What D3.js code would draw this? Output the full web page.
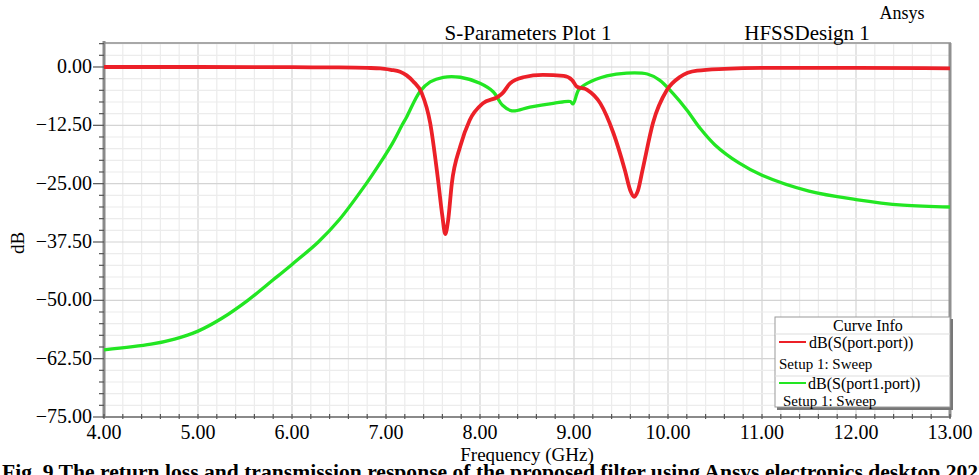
<!DOCTYPE html>
<html>
<head>
<meta charset="utf-8">
<script src="https://cdn.jsdelivr.net/npm/d3@7"></script>
<style>
  body { margin: 0; background: #fff; overflow: hidden; }
  svg text { font-family: "Liberation Serif", "Times New Roman", serif; fill: #000; }
</style>
</head>
<body>
<script>
// S11 (red)
var s11Freq = [4.0, 5.0, 6.0, 6.5, 6.8, 6.94, 7.05, 7.15, 7.22, 7.29, 7.38, 7.47, 7.55, 7.60, 7.63, 7.66, 7.70, 7.79, 7.89, 8.03, 8.19, 8.24, 8.32, 8.46, 8.67, 8.89, 8.98, 9.03, 9.14, 9.28, 9.42, 9.54, 9.60, 9.64, 9.68, 9.73, 9.84, 9.99, 10.13, 10.31, 10.6, 11.0, 12.0, 13.0];
var s11dB = [0, 0, -0.05, -0.1, -0.2, -0.3, -0.6, -1.0, -1.8, -3.1, -5.6, -12, -23.6, -32, -35.8, -33, -25, -17, -11.4, -7.8, -6.4, -5.6, -3.5, -2.2, -1.7, -1.9, -2.8, -4.2, -4.9, -7.8, -14.2, -22, -26.5, -27.8, -26.5, -22, -12, -4.9, -2.1, -0.8, -0.4, -0.2, -0.2, -0.3];

// S21 (green)
var s21Freq = [4.0, 4.5, 4.75, 5.0, 5.25, 5.53, 5.8, 6.0, 6.28, 6.5, 6.79, 6.94, 7.07, 7.17, 7.22, 7.36, 7.47, 7.61, 7.79, 8.0, 8.14, 8.24, 8.34, 8.53, 8.78, 8.96, 8.99, 9.05, 9.14, 9.35, 9.56, 9.78, 9.91, 10.05, 10.2, 10.34, 10.5, 10.75, 11.0, 11.5, 12.0, 12.5, 13.0];
var s21dB = [-60.6, -59.4, -58.3, -56.6, -53.9, -50, -45.6, -42.3, -37.5, -32.8, -25, -20.5, -16.3, -12.5, -10.7, -5.3, -3.2, -2.2, -2.2, -3.5, -5.3, -8.2, -9.4, -8.6, -7.8, -7.4, -7.9, -4.9, -3.5, -1.9, -1.3, -1.5, -2.8, -5.6, -9.2, -13.1, -16.7, -20.5, -23.2, -26.6, -28.4, -29.6, -30.0];

var xTicks = [4, 5, 6, 7, 8, 9, 10, 11, 12, 13];
var yTicks = [0, -12.5, -25, -37.5, -50, -62.5, -75];

var W = 979, H = 475;
var pL = 104, pR = 950, pT = 43, pB = 417;

var svg = d3.select("body").append("svg")
    .attr("width", W)
    .attr("height", H);

var x = d3.scaleLinear().domain([4, 13]).range([pL, pR]);
var y = d3.scaleLinear().domain([-75, 5.14]).range([pB, pT]);

// grid, light every 0.2 GHz / 2.5 dB, a bit darker on the labelled values
var gx = d3.range(4, 13.001, 0.2);
var gy = d3.range(-75, 5.1, 2.5);

svg.append("g").selectAll("line")
    .data(gx)
    .enter().append("line")
    .attr("x1", d => x(d)).attr("x2", d => x(d))
    .attr("y1", pT).attr("y2", pB)
    .attr("stroke", function (d) { return Math.abs(d - Math.round(d)) < 1e-6 ? "#d4d4d4" : "#ececec"; })
    .attr("stroke-width", 1.2);

svg.append("g").selectAll("line")
    .data(gy)
    .enter().append("line")
    .attr("x1", pL).attr("x2", pR)
    .attr("y1", d => y(d)).attr("y2", d => y(d))
    .attr("stroke", function (d) { return Math.abs(d / 12.5 - Math.round(d / 12.5)) < 1e-6 ? "#d4d4d4" : "#ececec"; })
    .attr("stroke-width", 1.2);

// frame
svg.append("line").attr("x1", pL).attr("x2", pR + 1).attr("y1", pT).attr("y2", pT)
    .attr("stroke", "#a8a8a8").attr("stroke-width", 2);
svg.append("line").attr("x1", pR).attr("x2", pR).attr("y1", pT).attr("y2", pB)
    .attr("stroke", "#909090").attr("stroke-width", 3);
svg.append("line").attr("x1", pL).attr("x2", pR + 1).attr("y1", pB).attr("y2", pB)
    .attr("stroke", "#8a8a8a").attr("stroke-width", 2);
svg.append("line").attr("x1", pL).attr("x2", pL).attr("y1", pT - 2).attr("y2", pB + 1)
    .attr("stroke", "#8a8a8a").attr("stroke-width", 3);

// y axis ticks
svg.append("g").selectAll("line")
    .data(gy.filter(d => d <= 5))
    .enter().append("line")
    .attr("x1", d => yTicks.indexOf(d) >= 0 ? pL - 11 : pL - 5)
    .attr("x2", pL)
    .attr("y1", d => y(d)).attr("y2", d => y(d))
    .attr("stroke", "#555").attr("stroke-width", 1.2);

svg.append("g").selectAll("text")
    .data(yTicks)
    .enter().append("text")
    .attr("x", pL - 12)
    .attr("y", d => y(d) + 6)
    .attr("text-anchor", "end")
    .style("font-size", "20px")
    .text(d => d3.format(".2f")(d));

// x axis ticks
svg.append("g").selectAll("line")
    .data(gx)
    .enter().append("line")
    .attr("x1", d => x(d)).attr("x2", d => x(d))
    .attr("y1", pB - 3).attr("y2", pB + 2)
    .attr("stroke", "#555").attr("stroke-width", 1.2);

svg.append("g").selectAll("text")
    .data(xTicks)
    .enter().append("text")
    .attr("x", d => x(d))
    .attr("y", pB + 22)
    .attr("text-anchor", "middle")
    .style("font-size", "20px")
    .text(d => d3.format(".2f")(d));

// axis titles
svg.append("text").attr("x", 527).attr("y", 461).attr("text-anchor", "middle")
    .style("font-size", "19px").text("Frequency (GHz)");
svg.append("text").attr("transform", "translate(24,243) rotate(-90)").attr("text-anchor", "middle")
    .style("font-size", "19px").text("dB");

// titles
svg.append("text").attr("x", 528).attr("y", 40).attr("text-anchor", "middle")
    .style("font-size", "21px").text("S-Parameters Plot 1");
svg.append("text").attr("x", 807).attr("y", 40).attr("text-anchor", "middle")
    .style("font-size", "21px").text("HFSSDesign 1");
svg.append("text").attr("x", 902).attr("y", 19).attr("text-anchor", "middle")
    .style("font-size", "18px").text("Ansys");

// curves
var lineS11 = d3.line()
    .x(d => x(d[0]))
    .y(d => y(d[1]))
    .curve(d3.curveMonotoneX);
var lineS21 = d3.line()
    .x(d => x(d[0]))
    .y(d => y(d[1]))
    .curve(d3.curveCatmullRom.alpha(0.5));

var plot = svg.append("g");
plot.append("path")
    .datum(d3.zip(s21Freq, s21dB))
    .attr("d", lineS21)
    .attr("fill", "none")
    .attr("stroke", "#22e622")
    .attr("stroke-width", 3.3);

plot.append("path")
    .datum(d3.zip(s11Freq, s11dB))
    .attr("d", lineS11)
    .attr("fill", "none")
    .attr("stroke", "#ec2028")
    .attr("stroke-width", 3.8);

// legend
var lg = svg.append("g");
lg.append("rect").attr("x", 777).attr("y", 319).attr("width", 176).attr("height", 91).attr("fill", "#777");
lg.append("rect").attr("x", 775).attr("y", 317).attr("width", 175).attr("height", 90)
    .attr("fill", "#fff").attr("stroke", "#9a9a9a").attr("stroke-width", 1);
lg.append("text").attr("x", 868).attr("y", 331).attr("text-anchor", "middle")
    .style("font-size", "16px").text("Curve Info");
lg.append("line").attr("x1", 775).attr("x2", 950).attr("y1", 334).attr("y2", 334).attr("stroke", "#ddd");
lg.append("line").attr("x1", 779).attr("x2", 806).attr("y1", 342).attr("y2", 342).attr("stroke", "#ec2028").attr("stroke-width", 2);
lg.append("text").attr("x", 809).attr("y", 348).style("font-size", "16px").text("dB(S(port.port))");
lg.append("text").attr("x", 779).attr("y", 369).style("font-size", "15px").text("Setup 1: Sweep");
lg.append("line").attr("x1", 775).attr("x2", 950).attr("y1", 376).attr("y2", 376).attr("stroke", "#ddd");
lg.append("line").attr("x1", 779).attr("x2", 806).attr("y1", 383).attr("y2", 383).attr("stroke", "#22e622").attr("stroke-width", 2);
lg.append("text").attr("x", 808).attr("y", 389).style("font-size", "16px").text("dB(S(port1.port))");
lg.append("text").attr("x", 783).attr("y", 406).style("font-size", "15px").text("Setup 1: Sweep");

// caption (runs off the bottom and right edges, as in the source image)
svg.append("text").attr("x", 2).attr("y", 479)
    .style("font-size", "21.6px").style("font-weight", "bold")
    .text("Fig. 9 The return loss and transmission response of the proposed filter using Ansys electronics desktop 2023");
</script>
</body>
</html>
